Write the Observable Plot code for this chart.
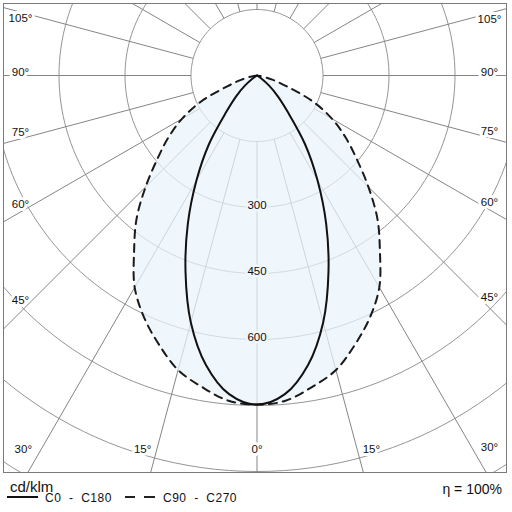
<!DOCTYPE html>
<html><head><meta charset="utf-8">
<script src="https://cdn.jsdelivr.net/npm/d3@7"></script>
<script src="https://cdn.jsdelivr.net/npm/@observablehq/plot@0.6"></script>
<style>
body{margin:0;background:#fff;font-family:"Liberation Sans",Arial,sans-serif;color:#111;}
#wrap{position:relative;width:512px;height:512px;overflow:hidden;}
#chart svg{display:block;}
#legend span{position:absolute;white-space:pre;line-height:1;}
#legend div{position:absolute;height:0;}
.unit{left:10px;top:479px;font-size:15px;}
.solid{left:7px;top:496px;width:31px;border-top:2px solid #111;}
.t1{left:45px;top:492px;font-size:12px;letter-spacing:0.5px;}
.dash{top:496px;border-top:2px solid #222;}
.d1{left:125px;width:10px;}
.d2{left:144px;width:11px;}
.t2{left:163px;top:492px;font-size:12px;letter-spacing:0.5px;}
.eta{right:10px;top:482px;font-size:14px;}
</style></head>
<body><div id="wrap"><div id="chart"></div>
<div id="legend">
<span class="unit" id="unit"></span>
<div class="solid"></div>
<span class="t1" id="t1"></span>
<div class="dash d1"></div><div class="dash d2"></div>
<span class="t2" id="t2"></span>
<span class="eta" id="eta"></span>
</div></div>
<script>
// ---- data ----
const gammaAngles   = [0, 5, 10, 15, 20, 25, 30, 35, 40, 45, 50, 55, 60, 65, 70, 75, 80, 85, 90];
const intensityC0   = [748, 727, 668, 581, 475, 372, 275, 190, 110, 67, 36, 12, 2, 0, 0, 0, 0, 0, 0];
const intensityC90  = [748, 742, 719, 693, 651, 607, 556, 487, 426, 358, 296, 246, 197, 141, 72, 36, 12, 3, 0];
const ringValues    = [150, 300, 450, 600, 750, 900, 1050];
const ringLabelValues = [300, 450, 600];
const radialAngles  = [0, 15, 30, 45, 60, 75, 90, 105, 120, 135, 150, 165, 180];
const angleTickValues = [0, 15, 30, 45, 60, 75, 90, 105];
const angleTickLabels = ["0°", "15°", "30°", "45°", "60°", "75°", "90°", "105°"];
const legendLabels  = ["C0  -  C180", "C90  -  C270"];
const unitLabel = "cd/klm";
const efficiencyLabel = "η = 100%";

// ---- layout ----
const W = 512, H = 476, K = 0.44, CX = 256.5, CY = 75;
const FL = 3, FR = 506, FT = 3, FB = 472;
const xDomain = [(FL - CX) / K, (FR - CX) / K];
const yDomain = [(FT - CY) / K, (FB - CY) / K];
const rad = d => d * Math.PI / 180;
const pt = (I, g, side) => ({x: side * I * Math.sin(rad(g)), y: I * Math.cos(rad(g))});

const ringPts = [];
for (const r of ringValues) for (let a = 0; a <= 360; a += 2) ringPts.push({r, ...pt(r, a, 1)});
const radials = [];
for (const a of radialAngles) for (const s of (a === 0 || a === 180 ? [1] : [-1, 1])) {
  const p1 = pt(150, a, s), p2 = pt(1500, a, s);
  radials.push({x1: p1.x, y1: p1.y, x2: p2.x, y2: p2.y});
}
function loop(vals) {
  const left = gammaAngles.map((g, i) => pt(vals[i], g, -1)).reverse();
  const right = gammaAngles.map((g, i) => pt(vals[i], g, 1)).slice(1);
  return left.concat(right);
}
const c0Pts = loop(intensityC0);
const c90Pts = loop(intensityC90);
function labelPos(a, side, lab) {
  const xEdge = side < 0 ? (CX - (FL + 17)) / K : ((FR - 17) - CX) / K;
  const yEdge = ((FB - 23) - CY) / K;
  const place = off => {
    const phi = rad(a + off), s = Math.sin(phi), c = Math.cos(phi);
    let t = s > 1e-9 ? xEdge / s : Infinity, bottom = false;
    if (c > 1e-9 && yEdge / c < t) { t = yEdge / c; bottom = true; }
    return {x: side * t * s, y: t * c, bottom, lab};
  };
  if (a === 0) return place(0);
  if (a === 90) { const p = place(0); p.y -= 3 / K; return p; }
  const dir = a < 90 ? 1 : -1;
  let p = place(dir * 1.4);
  if (p.bottom) p = place(dir * 2);
  return p;
}
const angleLabelPts = [];
angleTickValues.forEach((a, i) => {
  for (const s of (a === 0 ? [1] : [-1, 1])) angleLabelPts.push(labelPos(a, s, angleTickLabels[i]));
});
const ringLabelPts = ringLabelValues.map(v => ({x: 0, y: v, lab: String(v)}));

const FILL = "#f0f6fb";
const chart = Plot.plot({
  width: W, height: H,
  marginLeft: FL, marginRight: W - FR, marginTop: FT, marginBottom: H - FB,
  style: {fontFamily: "'Liberation Sans', Arial, sans-serif", background: "#fff"},
  x: {domain: xDomain, axis: null},
  y: {domain: yDomain, range: [FT, FB], axis: null},
  marks: [
    Plot.line(ringPts, {x: "x", y: "y", z: "r", stroke: "#959595", strokeWidth: 1, clip: true}),
    Plot.link(radials, {x1: "x1", y1: "y1", x2: "x2", y2: "y2", stroke: "#858585", strokeWidth: 1, clip: true}),
    Plot.line(c90Pts, {x: "x", y: "y", curve: "catmull-rom", stroke: "none", fill: "#e9f2fb", fillOpacity: 0.72}),
    Plot.text(ringLabelPts, {x: "x", y: "y", text: "lab", dy: -2, fontSize: 11.5, fill: "#111",
      stroke: FILL, strokeWidth: 5, paintOrder: "stroke"}),
    Plot.line(c90Pts, {x: "x", y: "y", curve: "catmull-rom", stroke: "#1a1a1a", strokeWidth: 2, strokeDasharray: "8,6"}),
    Plot.line(c0Pts, {x: "x", y: "y", curve: "catmull-rom", stroke: "#111", strokeWidth: 2}),
    Plot.text(angleLabelPts, {x: "x", y: "y", text: "lab", fontSize: 11.5, fill: "#111",
      stroke: "white", strokeWidth: 6, paintOrder: "stroke"}),
    Plot.frame({stroke: "#7a7a7a"})
  ]
});
document.getElementById("chart").appendChild(chart);
document.getElementById("unit").textContent = unitLabel;
document.getElementById("t1").textContent = legendLabels[0];
document.getElementById("t2").textContent = legendLabels[1];
document.getElementById("eta").textContent = efficiencyLabel;
</script>
</body></html>
